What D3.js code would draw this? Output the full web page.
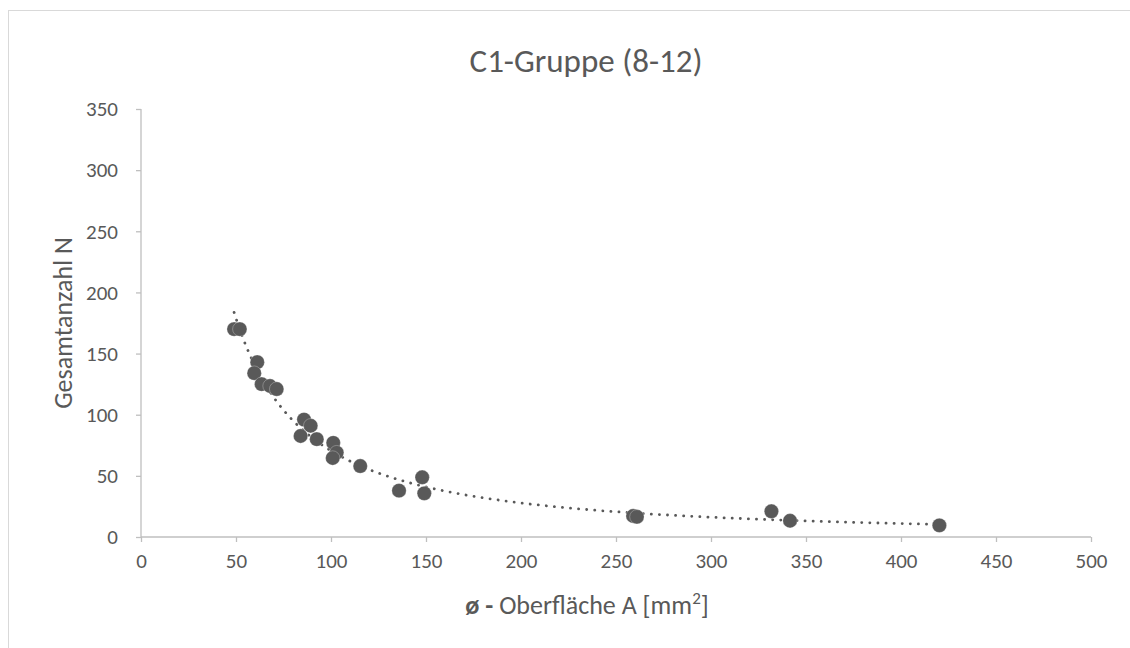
<!DOCTYPE html>
<html>
<head>
<meta charset="utf-8">
<script src="https://cdn.jsdelivr.net/npm/d3@7"></script>
<style>
  body { margin: 0; background: #fff; }
  #chart { width: 1130px; height: 648px; }
  text { font-family: Carlito, Calibri, Lato, "Open Sans", sans-serif; fill: #595959; }
</style>
</head>
<body>
<div id="chart"></div>
<script>
// data
const areas  = [49, 52, 61.2, 59.6, 63.5, 67.9, 71.4, 85.8, 89.3, 84, 92.5, 101.2, 103, 100.9, 115.4, 148, 135.8, 149.1, 259, 261, 331.8, 341.6, 420.2];
const counts = [170, 170, 143, 134, 125, 123.5, 121, 96, 91, 82.6, 80, 77, 69, 64.6, 58, 48.8, 37.9, 35.7, 17.2, 16.5, 21, 13.3, 9.5];
const xTicks = [0, 50, 100, 150, 200, 250, 300, 350, 400, 450, 500];
const yTicks = [0, 50, 100, 150, 200, 250, 300, 350];

const width = 1130, height = 648;
const margin = { top: 109, right: 39, bottom: 111, left: 141 };
const plotWidth = width - margin.left - margin.right;
const plotHeight = height - margin.top - margin.bottom;

const svg = d3.select("#chart").append("svg")
    .attr("width", width)
    .attr("height", height);

// chart border (runs off the bottom/right edge)
svg.append("rect")
    .attr("x", 8.5).attr("y", 10.5)
    .attr("width", 1300).attr("height", 800)
    .attr("fill", "#fff")
    .attr("stroke", "#d9d9d9");

const g = svg.append("g")
    .attr("transform", `translate(${margin.left},${margin.top})`);

const x = d3.scaleLinear().domain([0, 500]).range([0, plotWidth]);
const y = d3.scaleLinear().domain([0, 350]).range([plotHeight, 0]);

// title
svg.append("text")
    .attr("x", 586).attr("y", 72)
    .attr("text-anchor", "middle")
    .style("font-size", "33px")
    .text("C1-Gruppe (8-12)");

// axes
const xAxis = g.append("g")
    .attr("transform", `translate(0,${plotHeight})`)
    .call(d3.axisBottom(x).tickValues(xTicks).tickSize(5).tickPadding(11));
const yAxis = g.append("g")
    .call(d3.axisLeft(y).tickValues(yTicks).tickSize(5).tickPadding(18));

[xAxis, yAxis].forEach(ax => {
    ax.select(".domain").attr("stroke", "#bfbfbf").attr("stroke-width", 1.3);
    ax.selectAll(".tick line").attr("stroke", "#bfbfbf").attr("stroke-width", 1.3);
    ax.selectAll(".tick text").attr("fill", "#595959").style("font-size", "21px");
});
xAxis.select(".domain").attr("d", `M0,0H${plotWidth}`);
yAxis.select(".domain").attr("d", `M0,0V${plotHeight}`);

// axis titles
const xTitle = svg.append("text")
    .attr("x", 587).attr("y", 614)
    .attr("text-anchor", "middle")
    .style("font-size", "26px");
xTitle.append("tspan").style("font-weight", "bold").text("ø - ");
xTitle.append("tspan").text("Oberfläche A [mm");
xTitle.append("tspan").attr("dy", -10).style("font-size", "17px").text("2");
xTitle.append("tspan").attr("dy", 10).text("]");

svg.append("text")
    .attr("transform", "rotate(-90)")
    .attr("x", -(margin.top + plotHeight / 2))
    .attr("y", 72)
    .attr("text-anchor", "middle")
    .style("font-size", "26px")
    .text("Gesamtanzahl N");

// power trendline (least squares on log-log)
const pts = areas.map((a, i) => [a, counts[i]]);
const lx = pts.map(p => Math.log(p[0])), ly = pts.map(p => Math.log(p[1]));
const mx = d3.mean(lx), my = d3.mean(ly);
const b = d3.sum(lx, (v, i) => (v - mx) * (ly[i] - my)) / d3.sum(lx, v => (v - mx) ** 2);
const a = Math.exp(my - b * mx);
const [x0, x1] = d3.extent(areas);
const trend = d3.range(0, 201).map(i => {
    const xv = x0 + (x1 - x0) * i / 200;
    return [xv, a * Math.pow(xv, b)];
});

g.append("path")
    .datum(trend)
    .attr("fill", "none")
    .attr("stroke", "#595959")
    .attr("stroke-width", 2.8)
    .attr("stroke-linecap", "round")
    .attr("stroke-dasharray", "0.1 8")
    .attr("d", d3.line().x(d => x(d[0])).y(d => y(d[1])));

// points
g.selectAll(".pt")
    .data(pts)
    .enter()
    .append("circle")
    .attr("class", "pt")
    .attr("cx", d => x(d[0]))
    .attr("cy", d => y(d[1]))
    .attr("r", 7.2)
    .attr("fill", "#595959")
    .attr("stroke", "#fff")
    .attr("stroke-opacity", 0.35)
    .attr("stroke-width", 0.8);
</script>
</body>
</html>
